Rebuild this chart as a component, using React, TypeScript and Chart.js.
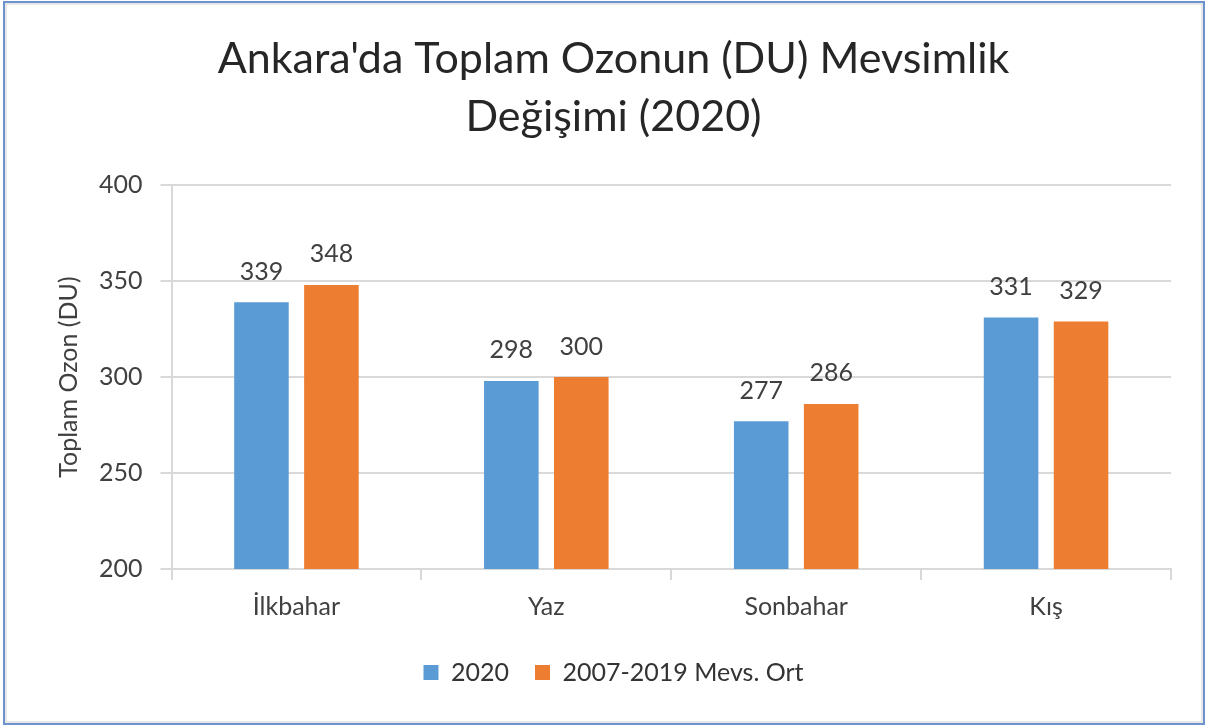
import React, { useEffect, useRef } from "react";
import { Chart, registerables } from "chart.js";

Chart.register(...registerables);

const categories = ["İlkbahar", "Yaz", "Sonbahar", "Kış"];
const series2020 = [339, 298, 277, 331];
const seriesAvg = [348, 300, 286, 329];
const seriesNames = ["2020", "2007-2019 Mevs. Ort"];
const titleLines = ["Ankara'da Toplam Ozonun (DU) Mevsimlik", "Değişimi (2020)"];
const yTitle = "Toplam Ozon (DU)";
const yMin = 200;
const yMax = 400;
const yStep = 50;

const FONT = "Lato, 'Open Sans', sans-serif";

const dataLabels = {
  id: "dataLabels",
  afterDatasetsDraw(chart: any) {
    const ctx = chart.ctx;
    ctx.save();
    ctx.font = `25px ${FONT}`;
    ctx.fillStyle = "#404040";
    ctx.textAlign = "center";
    ctx.textBaseline = "bottom";
    chart.data.datasets.forEach((ds: any, i: number) => {
      const meta = chart.getDatasetMeta(i);
      meta.data.forEach((bar: any, j: number) => {
        ctx.fillText(String(ds.data[j]), bar.x, bar.y - 18);
      });
    });
    ctx.restore();
  },
};

export default function App() {
  const ref = useRef<HTMLCanvasElement>(null);
  useEffect(() => {
    if (!ref.current) return;
    const chart = new Chart(ref.current, {
      type: "bar",
      data: {
        labels: categories,
        datasets: [
          { label: seriesNames[0], data: series2020, backgroundColor: "#5B9BD5" },
          { label: seriesNames[1], data: seriesAvg, backgroundColor: "#ED7D31" },
        ],
      },
      options: {
        responsive: false,
        animation: false,
        layout: { padding: { left: 56, right: 37, top: 0, bottom: 31 } },
        datasets: {
          bar: { categoryPercentage: 0.56, barPercentage: 0.78 },
        } as any,
        plugins: {
          title: {
            display: true,
            text: titleLines,
            color: "#262626",
            font: { family: FONT, size: 43, weight: "normal", lineHeight: 1.35 },
            padding: { top: 30, bottom: 39 },
          },
          legend: {
            position: "bottom",
            labels: {
              boxWidth: 15,
              boxHeight: 15,
              color: "#333333",
              font: { family: FONT, size: 25 },
              padding: 26,
            },
          },
          tooltip: { enabled: false },
        },
        scales: {
          x: {
            grid: {
              offset: true,
              drawOnChartArea: false,
              color: "#d9d9d9",
              tickLength: 11,
              lineWidth: 2,
            },
            border: { color: "#d9d9d9", width: 2 },
            ticks: { color: "#404040", font: { family: FONT, size: 25 }, padding: 12 },
          },
          y: {
            min: yMin,
            max: yMax,
            ticks: { stepSize: yStep, color: "#404040", font: { family: FONT, size: 25 }, padding: 18 },
            grid: { color: "#d9d9d9", tickLength: 11, lineWidth: 2 },
            border: { color: "#d9d9d9", width: 2 },
            title: {
              display: true,
              text: yTitle,
              color: "#404040",
              font: { family: FONT, size: 25, lineHeight: 1 },
              padding: { top: 0, bottom: 0 },
            },
          },
        },
      },
      plugins: [dataLabels],
    });
    return () => chart.destroy();
  }, []);
  return (
    <div style={{ position: "fixed", left: 0, top: 0, width: 1208, height: 726, background: "#fff" }}>
      <canvas ref={ref} width={1208} height={726} style={{ position: "absolute", left: 0, top: 0 }} />
      <div
        style={{
          position: "absolute",
          left: 3,
          top: 1,
          width: 1198,
          height: 720,
          border: "2px solid #6d93cc",
          boxShadow: "inset 0 0 0 2px #e6e6e6",
          pointerEvents: "none",
        }}
      />
    </div>
  );
}
